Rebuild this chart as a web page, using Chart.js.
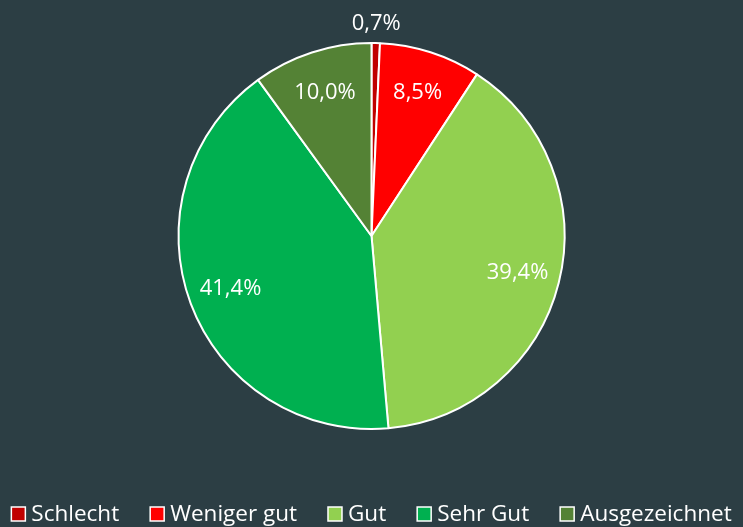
<!DOCTYPE html>
<html>
<head>
<meta charset="utf-8">
<script src="https://cdn.jsdelivr.net/npm/chart.js@4/dist/chart.umd.min.js"></script>
<style>
    html, body { margin: 0; padding: 0; background: #2c3e44; }
    #wrap { width: 743px; height: 527px; }
</style>
</head>
<body>
<div id="wrap"><canvas id="chart" width="743" height="527"></canvas></div>
<script>
const categories = ["Schlecht", "Weniger gut", "Gut", "Sehr Gut", "Ausgezeichnet"];
const shares = [0.7, 8.5, 39.4, 41.4, 10.0];
const sliceColors = ["#c00000", "#ff0000", "#92d050", "#00b050", "#548235"];

const FONT = "'Open Sans', sans-serif";

function formatPercent(value) {
    return value.toFixed(1).replace(".", ",") + "%";
}

// percentage labels, the tiny first slice gets its label outside the pie
const sliceLabels = {
    id: "sliceLabels",
    afterDatasetsDraw(chart) {
        const ctx = chart.ctx;
        const meta = chart.getDatasetMeta(0);
        ctx.save();
        ctx.fillStyle = "#ffffff";
        ctx.font = "22px " + FONT;
        ctx.textAlign = "center";
        ctx.textBaseline = "middle";
        meta.data.forEach((arc, i) => {
            const mid = (arc.startAngle + arc.endAngle) / 2;
            const r = i === 0 ? arc.outerRadius + 19 : arc.outerRadius * 0.78;
            ctx.fillText(formatPercent(shares[i]), arc.x + Math.cos(mid) * r, arc.y + Math.sin(mid) * r);
        });
        ctx.restore();
    }
};

// legend in one row along the bottom edge, spaced like the original
const bottomLegend = {
    id: "bottomLegend",
    afterDraw(chart) {
        const ctx = chart.ctx;
        const dataset = chart.data.datasets[0];
        const box = 14, textGap = 6, itemGap = 31, y = 514;
        ctx.save();
        ctx.font = "22.5px " + FONT;
        ctx.textBaseline = "middle";
        const widths = chart.data.labels.map(label => ctx.measureText(label).width);
        const total = widths.reduce((sum, w) => sum + box + textGap + w, 0) + itemGap * (widths.length - 1);
        let x = (chart.width - total) / 2;
        chart.data.labels.forEach((label, i) => {
            ctx.fillStyle = dataset.backgroundColor[i];
            ctx.fillRect(x, y - box / 2, box, box);
            ctx.strokeStyle = "#ffffff";
            ctx.lineWidth = 1.5;
            ctx.strokeRect(x, y - box / 2, box, box);
            ctx.fillStyle = "#ffffff";
            ctx.fillText(label, x + box + textGap, y + 1);
            x += box + textGap + widths[i] + itemGap;
        });
        ctx.restore();
    }
};

new Chart(document.getElementById("chart"), {
    type: "pie",
    data: {
        labels: categories,
        datasets: [{
            data: shares,
            backgroundColor: sliceColors,
            borderColor: "#ffffff",
            borderWidth: 2,
            radius: 193
        }]
    },
    options: {
        responsive: false,
        animation: false,
        layout: {
            padding: { top: 0, bottom: 55 }
        },
        plugins: {
            legend: { display: false },
            tooltip: { enabled: false }
        }
    },
    plugins: [sliceLabels, bottomLegend]
});
</script>
</body>
</html>
